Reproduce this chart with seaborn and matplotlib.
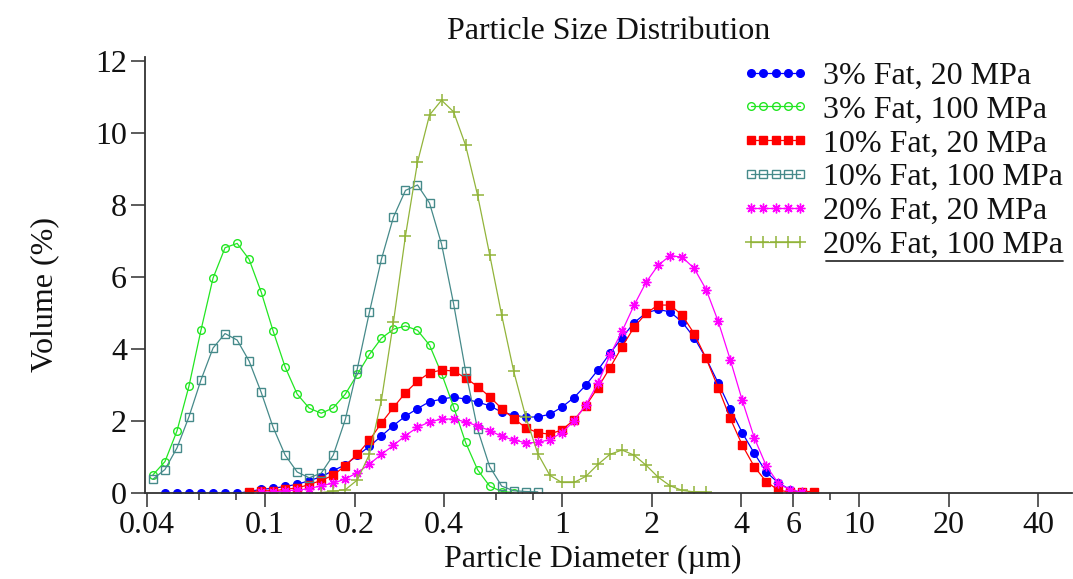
import matplotlib
matplotlib.use("Agg")
import matplotlib.pyplot as plt
import pandas as pd
import seaborn as sns
from matplotlib.ticker import FixedLocator, FixedFormatter, NullFormatter
from matplotlib.lines import Line2D

# Channel mid-point diameters (um)
size_um = [0.0419, 0.0460, 0.0505, 0.0554, 0.0608, 0.0668, 0.0733, 0.0805, 0.0883, 0.0970,
           0.1064, 0.1168, 0.1282, 0.1408, 0.1545, 0.1696, 0.1862, 0.2044, 0.2244, 0.2463,
           0.2704, 0.2968, 0.3258, 0.3576, 0.3926, 0.4309, 0.4730, 0.5193, 0.5700, 0.6257,
           0.6869, 0.7540, 0.8277, 0.9085, 0.9973, 1.0948, 1.2017, 1.3191, 1.4480, 1.5895,
           1.7448, 1.9153, 2.1024, 2.3078, 2.5334, 2.7809, 3.0526, 3.3508, 3.6782, 4.0376,
           4.4321, 4.8652, 5.3405, 5.8623, 6.4351, 7.0638]

labels = ["3% Fat, 20 MPa", "3% Fat, 100 MPa", "10% Fat, 20 MPa",
          "10% Fat, 100 MPa", "20% Fat, 20 MPa", "20% Fat, 100 MPa"]

# first channel index of each series
fat3_20_start = 1
fat3_20 = [0, 0, 0, 0, 0, 0, 0, 0.05, 0.11, 0.14, 0.19, 0.25, 0.35, 0.46, 0.63, 0.79,
           1.05, 1.30, 1.59, 1.88, 2.14, 2.35, 2.54, 2.61, 2.67, 2.61, 2.53, 2.43, 2.25,
           2.17, 2.11, 2.12, 2.19, 2.39, 2.65, 3.00, 3.42, 3.88, 4.31, 4.73, 5.00, 5.10,
           5.03, 4.75, 4.32, 3.74, 3.06, 2.35, 1.68, 1.11, 0.59, 0.29, 0.10, 0.02]

fat3_100_start = 0
fat3_100 = [0.51, 0.88, 1.73, 2.97, 4.52, 5.97, 6.81, 6.93, 6.49, 5.58, 4.50, 3.50, 2.75,
            2.36, 2.22, 2.37, 2.75, 3.30, 3.85, 4.30, 4.55, 4.64, 4.52, 4.11, 3.32, 2.40,
            1.41, 0.65, 0.20, 0.05, 0.02]

fat10_20_start = 8
fat10_20 = [0.04, 0.07, 0.07, 0.11, 0.15, 0.24, 0.36, 0.50, 0.77, 1.08, 1.47, 1.95, 2.38,
            2.79, 3.11, 3.34, 3.42, 3.39, 3.20, 2.96, 2.68, 2.35, 2.07, 1.82, 1.68, 1.64,
            1.76, 2.03, 2.43, 2.93, 3.48, 4.06, 4.60, 4.99, 5.22, 5.22, 4.94, 4.43, 3.74,
            2.93, 2.08, 1.34, 0.74, 0.32, 0.09, 0.03, 0.05, 0.05]

fat10_100_start = 0
fat10_100 = [0.39, 0.66, 1.26, 2.12, 3.14, 4.03, 4.43, 4.25, 3.67, 2.80, 1.83, 1.06, 0.59,
             0.43, 0.56, 1.06, 2.05, 3.46, 5.02, 6.49, 7.66, 8.40, 8.55, 8.05, 6.91, 5.26,
             3.39, 1.77, 0.74, 0.20, 0.07, 0.05, 0.04]

fat20_20_start = 9
fat20_20 = [0.03, 0.04, 0.07, 0.09, 0.13, 0.21, 0.28, 0.40, 0.57, 0.81, 1.08, 1.33, 1.60,
            1.83, 1.98, 2.06, 2.06, 1.98, 1.87, 1.74, 1.58, 1.48, 1.40, 1.41, 1.49, 1.68,
            2.00, 2.45, 3.05, 3.83, 4.49, 5.21, 5.85, 6.32, 6.59, 6.55, 6.24, 5.65, 4.77,
            3.71, 2.58, 1.54, 0.76, 0.28, 0.09, 0.03]

fat20_100_start = 14
fat20_100 = [0.02, 0.06, 0.10, 0.37, 1.08, 2.58, 4.75, 7.14, 9.18, 10.49, 10.90, 10.58,
             9.65, 8.26, 6.62, 4.94, 3.38, 2.12, 1.10, 0.50, 0.30, 0.30, 0.47, 0.80, 1.08,
             1.20, 1.06, 0.78, 0.45, 0.21, 0.08, 0.04, 0.03]

xtick_values = [0.04, 0.1, 0.2, 0.4, 1, 2, 4, 6, 10, 20, 40]
xtick_labels = ["0.04", "0.1", "0.2", "0.4", "1", "2", "4", "6", "10", "20", "40"]
xminor_values = [0.06, 0.08, 0.6, 0.8, 8]
ytick_values = [0, 2, 4, 6, 8, 10, 12]

sns.set_style("ticks")
plt.rcParams['font.family'] = ['Liberation Serif', 'DejaVu Serif']

FS = 23

fig = plt.figure(figsize=(10.73, 5.79), dpi=100)
ax = fig.add_axes([0.1351, 0.148, 0.8639, 0.7536])
ax.set_xscale("log")

series = [
    (labels[0], fat3_20_start, fat3_20, "#0000FF", "o", "#0000FF", 5.5, 1.0),
    (labels[1], fat3_100_start, fat3_100, "#22E622", "o", "none", 5.5, 1.0),
    (labels[2], fat10_20_start, fat10_20, "#FF0000", "s", "#FF0000", 5.5, 1.0),
    (labels[3], fat10_100_start, fat10_100, "#468A8A", "s", "none", 5.5, 1.0),
    (labels[4], fat20_20_start, fat20_20, "#FF00FF", (8, 2, 0), "#FF00FF", 7.0, 1.0),
    (labels[5], fat20_100_start, fat20_100, "#92B43A", "+", "#92B43A", 8.0, 1.1),
]

for lab, start, vals, col, mk, mfc, ms, mew in series:
    df = pd.DataFrame({"d": size_um[start:start + len(vals)], "v": vals})
    sns.lineplot(data=df, x="d", y="v", ax=ax, color=col, marker=mk, markersize=ms,
                 markerfacecolor=mfc, markeredgecolor=col, markeredgewidth=mew,
                 linewidth=0.9, label=lab)

ax.set_xlim(0.0394, 52)
ax.set_ylim(0, 12.1)

ax.xaxis.set_major_locator(FixedLocator(xtick_values))
ax.xaxis.set_major_formatter(FixedFormatter(xtick_labels))
ax.xaxis.set_minor_locator(FixedLocator(xminor_values))
ax.xaxis.set_minor_formatter(NullFormatter())
ax.set_yticks(ytick_values)
ax.set_yticklabels([str(v) for v in ytick_values])

ax.tick_params(which="major", length=10, width=1.2, color="#404040", labelsize=FS, pad=3,
               labelcolor="#111111")
ax.tick_params(which="minor", length=5, width=1.2, color="#404040")
for s in ["top", "right"]:
    ax.spines[s].set_visible(False)
for s in ["left", "bottom"]:
    ax.spines[s].set_linewidth(1.3)
    ax.spines[s].set_color("#333333")

ax.set_title("Particle Size Distribution", fontsize=FS, pad=13, color="#111111")
ax.set_xlabel("Particle Diameter (\u00b5m)", fontsize=FS, color="#111111")
ax.set_ylabel("Volume (%)", fontsize=FS, color="#111111")
ax.xaxis.set_label_coords(0.483, -0.118)
ax.yaxis.set_label_coords(-0.093, 0.455)

leg = ax.legend(loc="upper right", bbox_to_anchor=(0.990, 0.99), frameon=False,
                numpoints=5, handlelength=2.15, handletextpad=0.4, labelspacing=0.14,
                fontsize=FS, borderaxespad=0, borderpad=0)
for t in leg.get_texts():
    t.set_color("#111111")

ax.add_line(Line2D([0.7346, 0.990], [0.5324, 0.5324], transform=ax.transAxes,
                   color="#333333", lw=1.3, clip_on=False))

fig.savefig("out.png", dpi=100)
